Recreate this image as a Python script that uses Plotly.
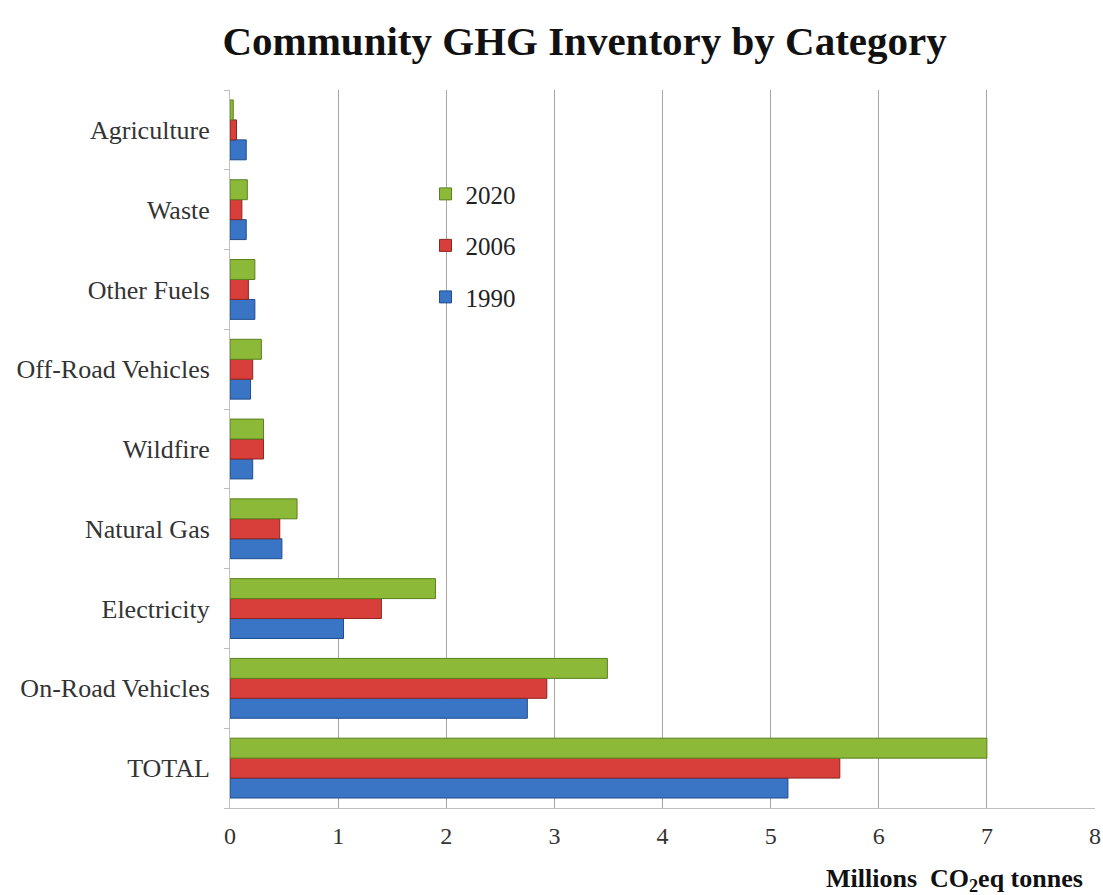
import plotly.graph_objects as go

categories = ["TOTAL", "On-Road Vehicles", "Electricity", "Natural Gas", "Wildfire",
              "Off-Road Vehicles", "Other Fuels", "Waste", "Agriculture"]
v1990 = [5.16, 2.75, 1.05, 0.48, 0.21, 0.19, 0.23, 0.15, 0.15]
v2006 = [5.64, 2.93, 1.40, 0.46, 0.31, 0.21, 0.17, 0.11, 0.06]
v2020 = [7.00, 3.49, 1.90, 0.62, 0.31, 0.29, 0.23, 0.16, 0.03]
x_ticks = [0, 1, 2, 3, 4, 5, 6, 7, 8]

series = [
    ("1990", v1990, "#3A74C4", "#1F4E8C", 3),
    ("2006", v2006, "#D93F3A", "#8E2420", 2),
    ("2020", v2020, "#8CBA38", "#5A7F1E", 1),
]

fig = go.Figure()
for name, vals, col, edge, rank in series:
    fig.add_trace(go.Bar(
        y=categories, x=vals, name=name, orientation="h",
        marker=dict(color=col, line=dict(color=edge, width=1)),
        legendgroup=name, legendrank=rank,
    ))

font_family = "Liberation Serif, Times New Roman, serif"
fig.update_layout(
    width=1103, height=895,
    paper_bgcolor="white", plot_bgcolor="white",
    margin=dict(l=230, r=8, t=90, b=87),
    barmode="group", bargap=0.25, bargroupgap=0.0,
    font=dict(family=font_family, size=24, color="#222222"),
    title=dict(text="<b>Community GHG Inventory by Category</b>",
               x=0.53, xanchor="center", y=0.955, yanchor="middle",
               font=dict(family=font_family, size=41, color="#111111")),
    legend=dict(x=0.226, y=0.887, xanchor="left", yanchor="top",
                traceorder="grouped", tracegroupgap=16,
                bgcolor="rgba(0,0,0,0)", font=dict(size=25, family=font_family),
                itemwidth=30),
    xaxis=dict(range=[0, 8], tickvals=x_ticks, ticktext=[str(t) for t in x_ticks],
               showgrid=True, gridcolor="#A6A6A6", gridwidth=1, automargin=False,
               showline=True, linecolor="#BFBFBF", zeroline=False,
               ticks="", ticklabelstandoff=6,
               tickfont=dict(size=24, family=font_family, color="#333333")),
    yaxis=dict(type="category", categoryorder="array", categoryarray=categories,
               showline=True, linecolor="#BFBFBF", ticks="outside", ticklen=5,
               tickson="boundaries", automargin=False, ticklabelstandoff=14,
               tickcolor="#BFBFBF", showgrid=False,
               tickfont=dict(size=26, family=font_family, color="#333333")),
)

fig.add_annotation(text="<b>Millions  CO<sub>2</sub>eq tonnes</b>",
                   xref="paper", yref="paper", x=0.988, y=-0.1, xanchor="right",
                   yanchor="middle", showarrow=False,
                   font=dict(family=font_family, size=26, color="#111111"))

fig.write_html("out.html", config={"displayModeBar": False},
               post_script="document.body.style.margin='0';document.body.style.overflow='hidden';")
